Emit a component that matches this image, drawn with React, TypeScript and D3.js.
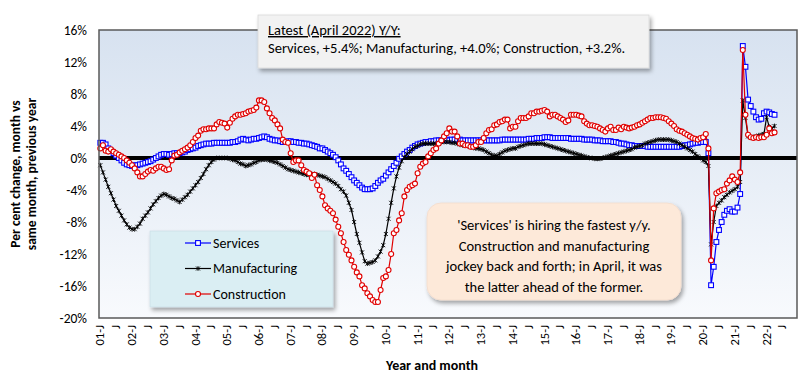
import React from "react";
import * as d3 from "d3";

const W = 800;
const H = 378;

const yearList = d3.range(2001, 2023);
const monthAbbr = ["J", "F", "M", "A", "M", "J", "J", "A", "S", "O", "N", "D"];
const categories: string[] = yearList.flatMap((y) => monthAbbr.map((m, i) => `${y}-${i + 1}`));
const tickLabels: string[] = yearList.flatMap((y) =>
  monthAbbr.map((m, i) => (i === 0 ? `${String(y).slice(2)}-J` : i === 6 ? "J" : ""))
);

const yTicks = [16, 12, 8, 4, 0, -4, -8, -12, -16, -20];

const services = [
  1.9, 1.9, 1.7, 1.2, 0.9, 0.6, 0.3, 0.0, -0.3, -0.6, -0.8, -0.9,
  -1.0, -0.9, -0.9, -0.8, -0.7, -0.6, -0.5, -0.4, -0.2, 0.0, 0.2, 0.4,
  0.5, 0.5, 0.4, 0.5, 0.6, 0.6, 0.6, 0.7, 0.8, 1.0, 1.1, 1.2,
  1.3, 1.5, 1.6, 1.7, 1.8, 1.8, 1.8, 1.9, 1.9, 1.9, 1.9, 1.9,
  1.9, 1.9, 2.0, 2.0, 2.1, 2.3, 2.4, 2.3, 2.2, 2.3, 2.4, 2.4,
  2.5, 2.6, 2.7, 2.6, 2.4, 2.3, 2.2, 2.2, 2.1, 2.0, 2.0, 2.1,
  2.1, 2.0, 2.0, 1.9, 1.9, 1.8, 1.8, 1.7, 1.6, 1.5, 1.4, 1.2,
  1.2, 1.0, 0.8, 0.6, 0.4, 0.1, -0.3, -0.8, -1.3, -1.6, -2.0, -2.4,
  -2.8, -3.1, -3.4, -3.7, -3.9, -3.9, -3.9, -3.8, -3.5, -3.1, -2.8, -2.6,
  -2.2, -1.8, -1.4, -1.0, -0.6, -0.1, 0.2, 0.5, 0.8, 1.0, 1.3, 1.5,
  1.7, 1.8, 1.9, 2.0, 2.0, 2.1, 2.1, 2.2, 2.2, 2.2, 2.3, 2.3,
  2.2, 2.3, 2.3, 2.3, 2.3, 2.2, 2.2, 2.2, 2.2, 2.2, 2.2, 2.2,
  2.2, 2.2, 2.2, 2.2, 2.2, 2.2, 2.2, 2.2, 2.3, 2.3, 2.3, 2.3,
  2.3, 2.3, 2.3, 2.3, 2.3, 2.3, 2.4, 2.4, 2.4, 2.5, 2.5, 2.5,
  2.6, 2.6, 2.6, 2.5, 2.5, 2.5, 2.5, 2.5, 2.5, 2.5, 2.4, 2.4,
  2.4, 2.4, 2.4, 2.3, 2.3, 2.3, 2.3, 2.2, 2.2, 2.2, 2.1, 2.1,
  2.1, 2.1, 2.0, 2.0, 1.9, 1.8, 1.8, 1.7, 1.6, 1.6, 1.5, 1.5,
  1.5, 1.5, 1.5, 1.4, 1.4, 1.4, 1.4, 1.4, 1.4, 1.4, 1.4, 1.4,
  1.4, 1.4, 1.4, 1.4, 1.5, 1.6, 1.6, 1.7, 1.8, 1.9, 1.9, 2.0,
  2.0, 2.0, 0.6, -15.9, -13.6, -10.5, -9.0, -8.0, -7.1, -6.6, -6.4, -6.7,
  -6.7, -6.2, -4.5, 14.0, 11.4, 7.3, 6.5, 5.8, 5.1, 4.8, 4.9, 5.6,
  5.8, 5.7, 5.5, 5.4,
];

const manufacturing = [
  -0.9, -1.8, -2.7, -3.6, -4.4, -5.2, -6.0, -6.6, -7.2, -7.8, -8.3, -8.7,
  -8.9, -8.9, -8.6, -8.2, -7.6, -7.2, -6.8, -6.3, -5.8, -5.4, -5.0, -4.7,
  -4.5, -4.6, -4.8, -5.0, -5.1, -5.3, -5.5, -5.2, -4.9, -4.6, -4.2, -3.8,
  -3.4, -3.0, -2.5, -2.0, -1.4, -0.9, -0.5, -0.2, 0.0, 0.0, 0.0, 0.0,
  0.0, -0.1, -0.2, -0.3, -0.5, -0.7, -0.8, -1.0, -0.9, -0.8, -0.6, -0.5,
  -0.3, -0.2, -0.2, -0.2, -0.3, -0.4, -0.5, -0.6, -0.8, -1.0, -1.2, -1.4,
  -1.5, -1.6, -1.7, -1.8, -1.9, -2.0, -2.1, -2.1, -2.0, -2.0, -2.1, -2.2,
  -2.3, -2.4, -2.6, -2.8, -3.0, -3.2, -3.5, -3.9, -4.2, -4.7, -5.6, -6.5,
  -8.0, -9.5, -10.6, -11.8, -12.9, -13.2, -13.1, -13.0, -12.8, -12.3, -11.7, -10.9,
  -9.5, -7.6, -5.6, -3.8, -2.3, -1.2, -0.4, 0.1, 0.5, 0.8, 1.1, 1.4,
  1.5, 1.7, 1.8, 1.8, 1.8, 1.8, 1.8, 1.8, 1.9, 2.0, 2.0, 2.0,
  2.0, 1.9, 1.9, 1.8, 1.7, 1.6, 1.6, 1.5, 1.4, 1.3, 1.2, 1.2,
  1.1, 1.0, 0.8, 0.6, 0.4, 0.3, 0.3, 0.5, 0.7, 0.9, 1.0, 1.1,
  1.2, 1.2, 1.4, 1.5, 1.6, 1.7, 1.8, 1.8, 1.8, 1.8, 1.8, 1.8,
  1.7, 1.6, 1.5, 1.4, 1.3, 1.2, 1.1, 1.0, 0.9, 0.8, 0.7, 0.6,
  0.5, 0.4, 0.3, 0.2, 0.1, 0.0, 0.0, -0.1, -0.1, -0.1, 0.0, 0.1,
  0.2, 0.3, 0.4, 0.5, 0.6, 0.7, 0.8, 0.9, 1.0, 1.1, 1.3, 1.4,
  1.5, 1.6, 1.8, 1.9, 2.0, 2.1, 2.2, 2.3, 2.3, 2.3, 2.3, 2.3,
  2.2, 2.1, 2.0, 1.8, 1.6, 1.4, 1.2, 1.0, 0.8, 0.5, 0.2, 0.0,
  -0.3, -0.5, -1.0, -10.8, -8.0, -6.0, -5.6, -5.3, -4.9, -4.6, -4.3, -4.1,
  -3.9, -3.6, -3.0, 7.2, 5.0, 2.7, 2.6, 2.6, 2.7, 2.8, 2.9, 3.0,
  5.1, 3.9, 3.7, 4.0,
];

const construction = [
  1.2, 1.6, 0.9, 0.8, 1.1, 0.8, 0.6, 0.4, 0.2, 0.0, -0.3, -0.6,
  -0.9, -1.3, -1.8, -2.3, -2.3, -2.0, -1.7, -1.5, -1.6, -1.3, -1.1, -1.1,
  -1.3, -1.5, -1.4, -0.3, 0.3, 0.4, 0.7, 0.9, 1.1, 1.3, 1.6, 2.0,
  2.5, 2.8, 3.4, 3.6, 3.6, 3.7, 3.7, 3.7, 4.2, 4.5, 4.4, 4.3,
  3.8, 4.4, 4.9, 5.2, 5.4, 5.4, 5.5, 5.6, 5.8, 5.9, 6.0, 6.3,
  7.2, 7.2, 7.0, 6.2, 5.6, 5.0, 4.7, 4.2, 3.7, 2.3, 2.0, 1.9,
  0.6, -0.5, -0.3, -0.3, -0.9, -1.5, -1.7, -1.9, -2.5, -2.1, -3.4, -4.0,
  -4.8, -5.9, -6.3, -6.6, -6.9, -7.7, -8.6, -9.4, -10.5, -11.5, -12.1, -12.8,
  -13.6, -14.3, -14.8, -15.9, -16.3, -16.9, -17.3, -17.75, -18.0, -18.0, -16.5, -15.0,
  -14.8, -14.0, -12.0, -9.4, -9.0, -7.8, -6.9, -4.8, -4.0, -3.6, -3.4, -3.2,
  -1.9, -1.1, -0.7, -0.5, 0.2, 0.6, 1.0, 1.2, 1.8, 2.2, 2.7, 3.1,
  3.7, 3.3, 3.3, 2.7, 1.8, 1.8, 1.6, 1.6, 1.4, 1.4, 1.6, 2.0,
  2.0, 2.5, 3.1, 3.5, 3.6, 4.1, 4.2, 4.5, 4.6, 4.8, 4.8, 3.7,
  3.9, 3.9, 4.6, 5.0, 5.0, 5.0, 5.2, 5.6, 5.6, 5.8, 5.8, 5.9,
  6.0, 5.8, 5.2, 5.4, 5.4, 5.2, 5.0, 4.8, 4.5, 4.7, 5.4, 5.4,
  5.4, 5.3, 5.2, 4.6, 4.3, 4.1, 4.1, 4.0, 3.9, 3.7, 3.5, 3.3,
  3.7, 3.9, 3.5, 3.5, 3.8, 3.6, 3.9, 3.8, 3.7, 3.8, 3.9, 4.1,
  4.2, 4.4, 4.6, 4.8, 5.0, 5.0, 5.1, 5.1, 5.1, 5.0, 4.9, 4.6,
  4.3, 4.0, 3.6, 3.4, 3.3, 3.1, 2.9, 2.7, 2.5, 2.4, 2.3, 2.5,
  2.6, 3.0, 1.2, -12.8, -6.3, -4.4, -4.2, -4.0, -3.9, -3.2, -2.8, -2.3,
  -2.7, -3.0, -1.8, 13.5, 5.4, 2.9, 2.6, 2.5, 2.6, 2.5, 2.6, 2.6,
  2.9, 3.7, 3.1, 3.2,
];

const seriesNames = ["Services", "Manufacturing", "Construction"];
const seriesColors = ["#0000ff", "#000000", "#e00000"];

const annotationTitle = "Latest (April 2022) Y/Y:";
const annotationBody = "Services, +5.4%; Manufacturing, +4.0%; Construction, +3.2%.";
const calloutLines = [
  "'Services' is hiring the fastest y/y.",
  "Construction and manufacturing",
  "jockey back and forth; in April, it was",
  "the latter ahead of the former.",
];

const FONT = "Carlito, Calibri, Lato, 'Open Sans', sans-serif";

const plot = { left: 99, right: 797, top: 30, bottom: 318 };

function Marker({ kind, x, y, color }: { kind: number; x: number; y: number; color: string }) {
  if (kind === 0) {
    return <rect x={x - 2.4} y={y - 2.4} width={4.8} height={4.8} fill="#fff" stroke={color} strokeWidth={1.1} />;
  }
  if (kind === 1) {
    return (
      <path
        d={`M${x - 2},${y - 2}L${x + 2},${y + 2}M${x - 2},${y + 2}L${x + 2},${y - 2}M${x},${y - 2.4}L${x},${y + 2.4}`}
        stroke={color}
        strokeWidth={0.9}
        fill="none"
      />
    );
  }
  return <circle cx={x} cy={y} r={2.5} fill="#fff" stroke={color} strokeWidth={1.1} />;
}

export default function App() {
  const x = d3.scaleBand<string>().domain(categories).range([plot.left, plot.right]);
  const y = d3.scaleLinear().domain([-20, 16]).range([plot.bottom, plot.top]);
  const cx = (i: number) => (x(categories[i]) as number) + x.bandwidth() / 2;

  const data = [services, manufacturing, construction];
  const line = d3
    .line<number>()
    .x((_, i) => cx(i))
    .y((d) => y(d));

  return (
    <svg width={W} height={H} style={{ position: "absolute", left: 0, top: 0, background: "#fff" }} fontFamily={FONT}>
      <defs>
        <linearGradient id="bg" x1="0" y1="0" x2="0" y2="1">
          <stop offset="0" stopColor="#d7e2f0" />
          <stop offset="1" stopColor="#f8fafd" />
        </linearGradient>
        <filter id="sh" x="-10%" y="-10%" width="130%" height="140%">
          <feDropShadow dx="2" dy="3" stdDeviation="2" floodColor="#000" floodOpacity="0.35" />
        </filter>
      </defs>

      <rect x={plot.left} y={plot.top} width={plot.right - plot.left} height={plot.bottom - plot.top} fill="url(#bg)" />

      {/* zero line */}
      <line x1={plot.left} x2={plot.right} y1={y(0)} y2={y(0)} stroke="#000" strokeWidth={4} />

      {/* series */}
      {data.map((vals, s) => (
        <g key={seriesNames[s]}>
          <path d={line(vals) || ""} fill="none" stroke={seriesColors[s]} strokeWidth={1.2} />
          {vals.map((v, i) => (
            <Marker key={i} kind={s} x={cx(i)} y={y(v)} color={seriesColors[s]} />
          ))}
        </g>
      ))}

      {/* plot border */}
      <rect
        x={plot.left}
        y={plot.top}
        width={plot.right - plot.left}
        height={plot.bottom - plot.top}
        fill="none"
        stroke="#595959"
        strokeWidth={1.5}
      />

      {/* y ticks */}
      {yTicks.map((t) => (
        <text key={t} x={87} y={y(t)} dy="0.35em" textAnchor="end" fontSize={13.5} fill="#000">
          {`${t}%`}
        </text>
      ))}

      {/* x tick labels */}
      {categories.map((c, i) =>
        tickLabels[i] ? (
          <text
            key={c}
            transform={`translate(${cx(i) + 4},${plot.bottom + 7}) rotate(-90)`}
            textAnchor="end"
            fontSize={12.5}
            fill="#000"
          >
            {tickLabels[i]}
          </text>
        ) : null
      )}

      {/* axis titles */}
      <text transform="translate(20,174) rotate(-90)" textAnchor="middle" fontSize={13.5} fontWeight="bold">
        Per cent change, month vs
      </text>
      <text transform="translate(36,174) rotate(-90)" textAnchor="middle" fontSize={13.5} fontWeight="bold">
        same month, previous year
      </text>
      <text x={432} y={370} textAnchor="middle" fontSize={14} fontWeight="bold">
        Year and month
      </text>

      {/* top annotation */}
      <rect x={258} y={15} width={391} height={53} fill="#f2f2f2" stroke="#d9d9d9" strokeWidth={0.8} filter="url(#sh)" />
      <text x={268} y={35} fontSize={14.5} textDecoration="underline">
        {annotationTitle}
      </text>
      <text x={268} y={53} fontSize={14.5}>
        {annotationBody}
      </text>

      {/* legend */}
      <rect x={150} y={231} width={183} height={76} fill="#daeef3" stroke="#c6dbe3" strokeWidth={0.6} filter="url(#sh)" />
      {seriesNames.map((n, s) => {
        const ly = 243 + s * 25.5;
        return (
          <g key={n}>
            <line x1={185} x2={211} y1={ly} y2={ly} stroke={seriesColors[s]} strokeWidth={1.2} />
            <Marker kind={s} x={198} y={ly} color={seriesColors[s]} />
            <text x={213} y={ly} dy="0.35em" fontSize={14}>
              {n}
            </text>
          </g>
        );
      })}

      {/* callout */}
      <rect x={427} y={203} width={254} height={97} rx={14} ry={14} fill="#fde9d9" stroke="#f2dccd" strokeWidth={0.8} filter="url(#sh)" />
      {calloutLines.map((l, i) => (
        <text key={i} x={554} y={230 + i * 20.7} textAnchor="middle" fontSize={14.5}>
          {l}
        </text>
      ))}
    </svg>
  );
}
